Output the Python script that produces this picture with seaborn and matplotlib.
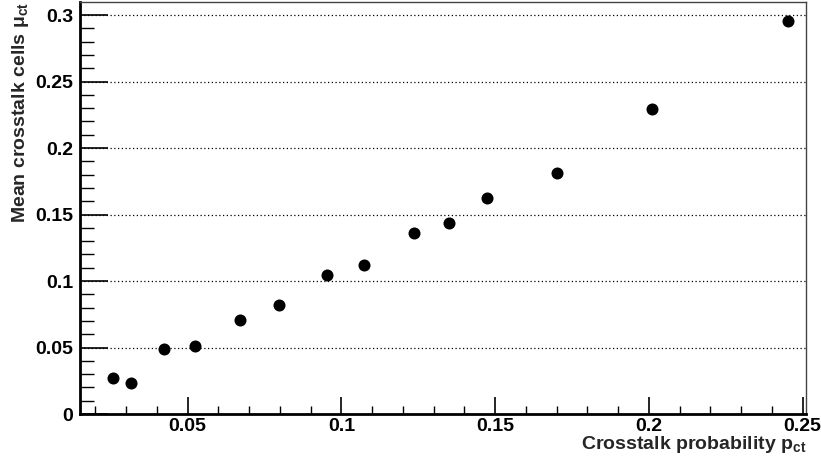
import matplotlib
matplotlib.use("Agg")
import matplotlib.pyplot as plt
import seaborn as sns
import pandas as pd
from matplotlib.ticker import MultipleLocator, FuncFormatter

# Data
p_ct = [0.0258, 0.0315, 0.0423, 0.0525, 0.0671, 0.0797, 0.0953, 0.1074,
        0.1236, 0.1350, 0.1474, 0.1701, 0.2011, 0.2451]
mu_ct = [0.0270, 0.0231, 0.0490, 0.0512, 0.0709, 0.0822, 0.1045, 0.1123,
         0.1364, 0.1436, 0.1625, 0.1815, 0.2297, 0.2957]

df = pd.DataFrame({"p": p_ct, "mu": mu_ct})

sns.set_theme(style="white")
plt.rcParams['font.family'] = ['Liberation Sans', 'DejaVu Sans']
plt.rcParams['font.weight'] = 'bold'
plt.rcParams['mathtext.fontset'] = 'custom'
plt.rcParams['mathtext.rm'] = 'Liberation Sans'
plt.rcParams['mathtext.bf'] = 'Liberation Sans:bold'
plt.rcParams['mathtext.it'] = 'Liberation Sans:italic'

fig = plt.figure(figsize=(8.21, 4.65), dpi=100)
ax = fig.add_axes([80/821, 1-414/465, (806-80)/821, (414-2)/465])

sns.scatterplot(data=df, x="p", y="mu", ax=ax, color="black", s=75,
                edgecolor="black", linewidth=0, zorder=3)

ax.set_xlim(0.015, 0.2511)
ax.set_ylim(0, 0.3098)

ax.xaxis.set_major_locator(MultipleLocator(0.05))
ax.xaxis.set_minor_locator(MultipleLocator(0.01))
ax.yaxis.set_major_locator(MultipleLocator(0.05))
ax.yaxis.set_minor_locator(MultipleLocator(0.01))
fmt = FuncFormatter(lambda v, pos: "%g" % round(v, 4))
ax.xaxis.set_major_formatter(fmt)
ax.yaxis.set_major_formatter(fmt)

ax.tick_params(axis='x', which='major', direction='in', length=12, width=1.2,
               colors='black', labelsize=14, pad=3, bottom=True, top=False)
ax.tick_params(axis='x', which='minor', direction='in', length=6, width=1,
               colors='black', bottom=True, top=False)
ax.tick_params(axis='y', which='major', direction='in', length=20, width=1.2,
               colors='black', labelsize=14, pad=5, left=True, right=False)
ax.tick_params(axis='y', which='minor', direction='in', length=10, width=1,
               colors='black', left=True, right=False)
for lbl in ax.get_xticklabels() + ax.get_yticklabels():
    lbl.set_fontweight('bold')

ax.yaxis.grid(True, which='major', linestyle=(0, (1, 2)), color='black', linewidth=0.9)
ax.xaxis.grid(False)

for side in ['left', 'bottom']:
    ax.spines[side].set_color('black')
    ax.spines[side].set_linewidth(2)
for side in ['top', 'right']:
    ax.spines[side].set_color('#444444')
    ax.spines[side].set_linewidth(1)

ax.set_xlabel(r"Crosstalk probability p$_{\mathbf{ct}}$", fontsize=14,
              fontweight='bold', loc='right')
ax.set_ylabel(r"Mean crosstalk cells $\mathrm{\mu}_{\mathbf{ct}}$", fontsize=14,
              fontweight='bold', loc='top')
ax.xaxis.set_label_coords(1.0, -(434 - 414) / 412)
ax.yaxis.set_label_coords(-(80 - 31) / 726, 1.0)

fig.savefig("out.png", dpi=100)
